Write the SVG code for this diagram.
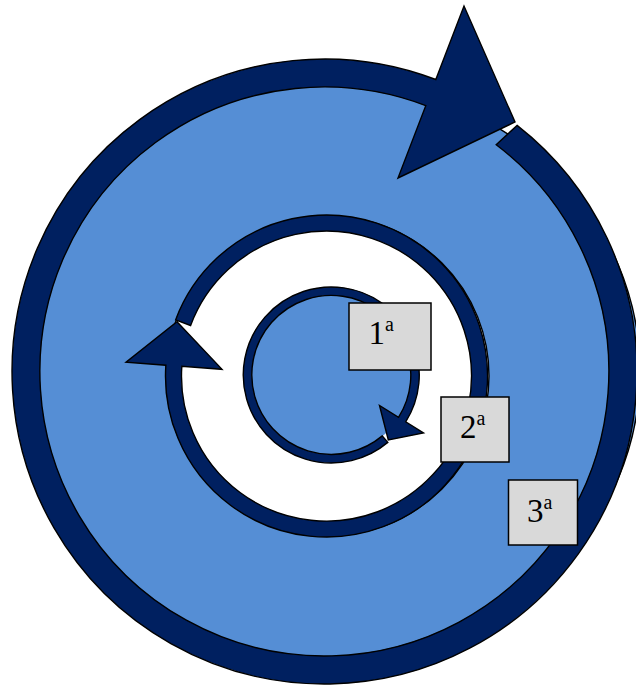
<svg xmlns="http://www.w3.org/2000/svg" width="636" height="688" viewBox="0 0 636 688">
  <style>
    .ring { fill: #002060; stroke: #000; stroke-width: 1.4; stroke-linejoin: miter; }
    .disk { fill: #558ED5; stroke: #000; stroke-width: 1.4; }
    .hole { fill: #FFFFFF; stroke: #000; stroke-width: 1.4; }
    .box { fill: #D9D9D9; stroke: #000; stroke-width: 1.5; }
    .lbl { font-family: "Liberation Serif", "Times New Roman", serif; font-size: 33px; fill: #000; }
    .sup { font-size: 20px; }
  </style>
  <rect width="636" height="688" fill="#FFFFFF"/>
  <g id="outer-cycle">
    <ellipse class="disk" cx="330" cy="371.5" rx="310" ry="290"/>
  </g>
  <g id="connectors">
    <path id="arrow-3" class="ring" d="M517.1,125.4 A312.5,312.5 0 1 1 435.8,79.49 L464,6 L515,122 L398,178 L425.77,105.63 A284.5,284.5 0 1 0 496.2,144.7 Z"/>
  </g>
  <g id="middle-cycle">
    <ellipse class="hole" cx="327.5" cy="376" rx="161.5" ry="160"/>
  </g>
  <g id="connectors-2">
    <path id="arrow-2" class="ring" d="M175.6,319.9 A161,161 0 1 1 165.86,365.21 L126,362.3 L177,321.7 L222,369.3 L181.82,366.37 A145,145 0 1 0 190.6,325.5 Z"/>
  </g>
  <g id="inner-cycle">
    <circle cx="331.2" cy="375" r="80" fill="#558ED5"/>
  </g>
  <g id="connectors-1">
    <path id="arrow-1" class="ring" d="M387.8,442.4 A88,88 0 1 1 405.7,421.9 L423.5,433 L388.3,440 L379.5,405.5 L398.5,417.4 A79.5,79.5 0 1 0 382.3,435.9 Z"/>
  </g>
  <g id="label-1">
    <rect class="box" x="349" y="303" width="82" height="67"/>
    <text class="lbl" x="368.5" y="344">1<tspan class="sup" dy="-13">a</tspan></text>
  </g>
  <g id="label-2">
    <rect class="box" x="441" y="397" width="68" height="65"/>
    <text class="lbl" x="460" y="438.3">2<tspan class="sup" dy="-13">a</tspan></text>
  </g>
  <g id="label-3">
    <rect class="box" x="508.5" y="480" width="69" height="65"/>
    <text class="lbl" x="527" y="521.7">3<tspan class="sup" dy="-13">a</tspan></text>
  </g>
</svg>
